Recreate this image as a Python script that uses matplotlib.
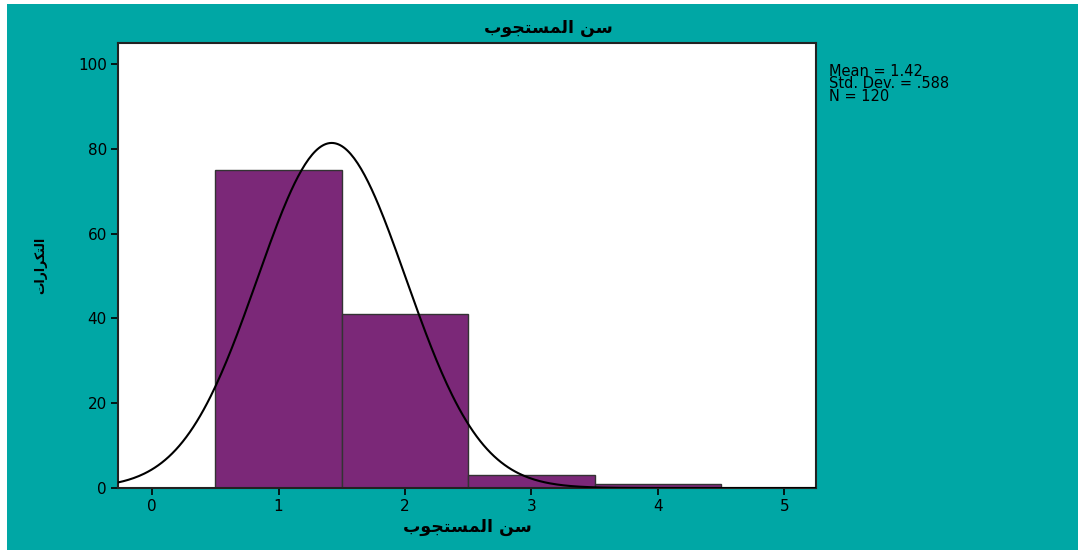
import numpy as np
import matplotlib
matplotlib.use('Agg')
import matplotlib.pyplot as plt
from matplotlib.patches import Rectangle

# data
ages = [1, 2, 3, 4]
counts = [75, 41, 3, 1]
mean_val = 1.42
sd_val = 0.588
n_val = 120
stat_lines = ['Mean = 1.42', 'Std. Dev. = .588', 'N = 120']

# Arabic text in presentation forms, visual order (matplotlib does no shaping)
title_txt = '\uFE8F\uFEEE\uFEA0\uFE98\uFEB4\uFEE4\uFEDF\uFE8D \uFEE6\uFEB3'
ylab_txt = '\uFE95\uFE8D\uFEAD\uFE8D\uFEAE\uFEDC\uFE98\uFEDF\uFE8D'

teal = '#00A7A5'
purple = '#7B2878'

fig = plt.figure(figsize=(10.78, 5.5), dpi=100)
fig.patch.set_facecolor('white')
fig.patches.append(Rectangle((7/1078, 0), 1, 1 - 4/550, transform=fig.transFigure,
                             facecolor=teal, edgecolor='none', zorder=-10))

ax = fig.add_axes([118/1078, 62/550, (816-118)/1078, (488-43)/550])
ax.set_facecolor('white')

ax.bar(ages, counts, width=1.0, color=purple, edgecolor='#333333', linewidth=1, zorder=2)

xs = np.linspace(-0.27, 5.25, 400)
curve = n_val * 1.0 / (sd_val * np.sqrt(2 * np.pi)) * np.exp(-0.5 * ((xs - mean_val) / sd_val) ** 2)
ax.plot(xs, curve, color='black', linewidth=1.5, zorder=3)

ax.set_xlim(-0.27, 5.25)
ax.set_ylim(0, 105)
ax.set_xticks([0, 1, 2, 3, 4, 5])
ax.set_yticks([0, 20, 40, 60, 80, 100])
ax.tick_params(direction='out', length=5, width=1.2, colors='black', labelsize=11, pad=3)
for lab in ax.get_xticklabels() + ax.get_yticklabels():
    lab.set_family('DejaVu Sans')
for s in ax.spines.values():
    s.set_color('#222222')
    s.set_linewidth(1.5)

fig.text(548/1078, 1 - 28/550, title_txt, family='DejaVu Sans', fontweight='bold',
         fontsize=12.5, ha='center', va='center')
ax.set_xlabel(title_txt, family='DejaVu Sans', fontweight='bold', fontsize=12.5)
ax.xaxis.set_label_coords(0.5, (488 - 518) / 445)
ax.set_ylabel(ylab_txt, family='DejaVu Sans', fontweight='bold', fontsize=9)
ax.yaxis.set_label_coords((47 - 118) / 698, 0.5)

fig.text(829/1078, 1 - 84/550, '\n'.join(stat_lines), family='DejaVu Sans',
         fontsize=10.5, va='center', ha='left', linespacing=0.78)

fig.savefig('out.png', dpi=100, facecolor=fig.get_facecolor())
